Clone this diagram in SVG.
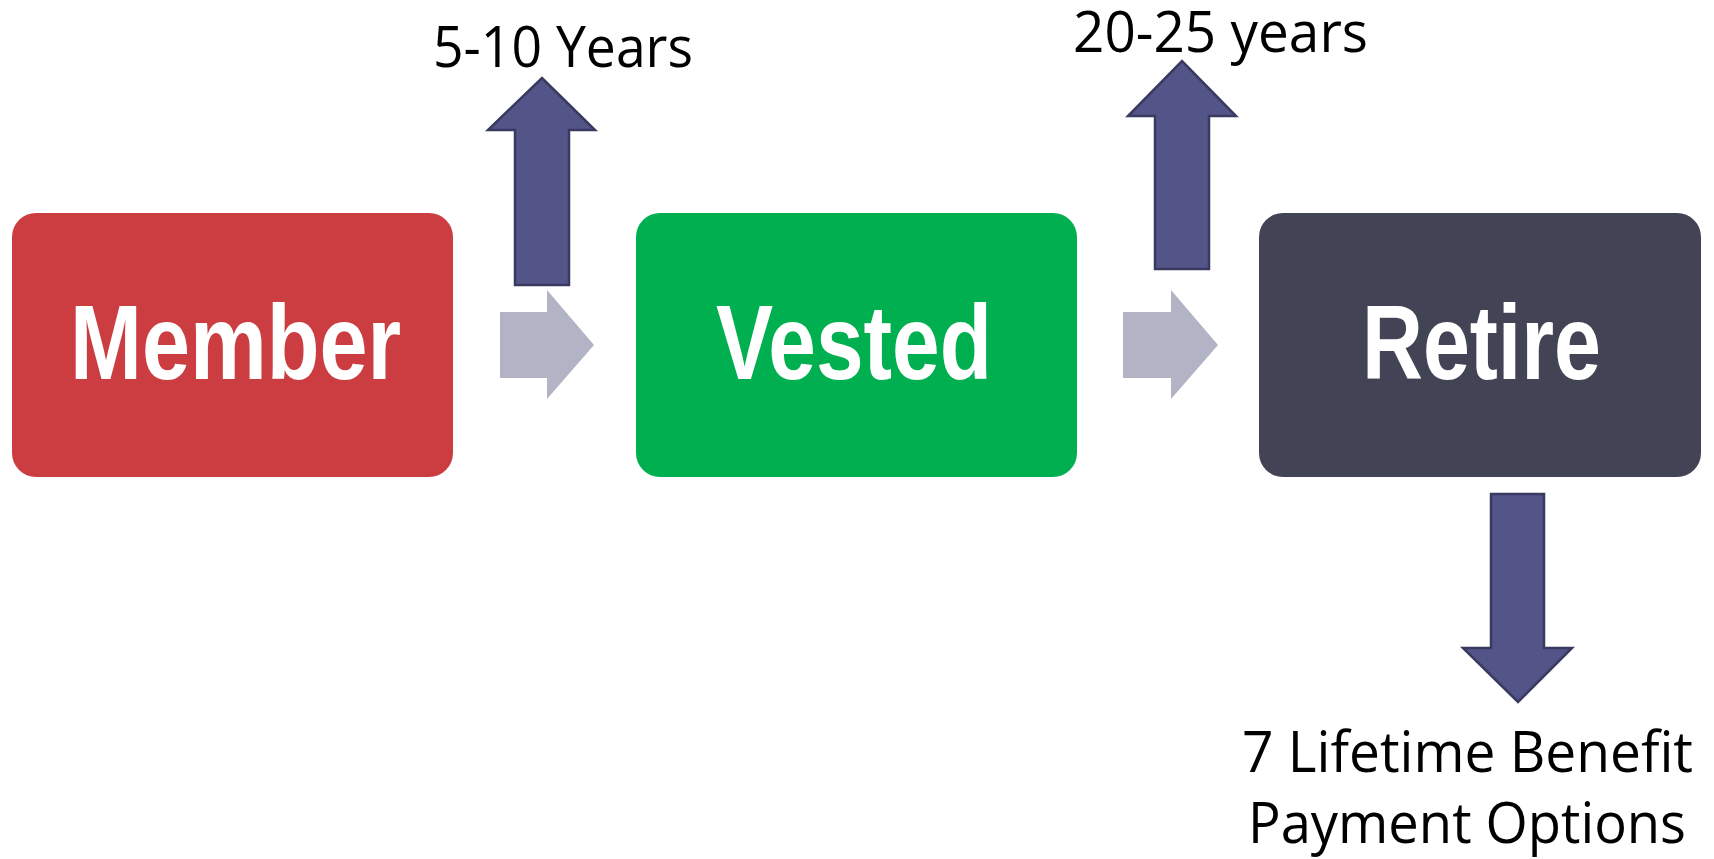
<svg xmlns="http://www.w3.org/2000/svg" width="1714" height="859" viewBox="0 0 1714 859">
<style>
.box-label{font-family:"Liberation Sans",Arial,sans-serif;font-weight:bold;font-size:106px;fill:#ffffff;}
.note{font-family:"Open Sans","Noto Sans",sans-serif;font-size:57px;fill:#000000;}
.big-arrow{fill:#535488;stroke:#383a60;stroke-width:2.5;stroke-linejoin:miter;}
.flow-arrow{fill:#b3b3c6;}
</style>
<rect width="1714" height="859" fill="#ffffff"/>
<g id="connectors">
<polygon class="flow-arrow" points="500,312 547,312 547,290 594,345 547,399 547,378 500,378"/>
<polygon class="flow-arrow" points="1123,312 1171,312 1171,290 1218,345 1171,399 1171,378 1123,378"/>
<polygon class="big-arrow" points="515,285 515,130 488,130 542,78 595,130 569,130 569,285"/>
<polygon class="big-arrow" points="1155,269 1155,116 1128,116 1182,61 1236,116 1209,116 1209,269"/>
<polygon class="big-arrow" points="1491,494 1544,494 1544,648 1572,648 1518,702 1463,648 1491,648"/>
</g>
<g id="node-member">
<rect x="12" y="213" width="441" height="264" rx="24" ry="24" fill="#cb3d41"/>
<text class="box-label" x="70" y="379" textLength="331" lengthAdjust="spacingAndGlyphs">Member</text>
</g>
<g id="node-vested">
<rect x="636" y="213" width="441" height="264" rx="24" ry="24" fill="#00b050"/>
<text class="box-label" x="716" y="379" textLength="276" lengthAdjust="spacingAndGlyphs">Vested</text>
</g>
<g id="node-retire">
<rect x="1259" y="213" width="442" height="264" rx="24" ry="24" fill="#424355"/>
<text class="box-label" x="1362" y="379" textLength="239" lengthAdjust="spacingAndGlyphs">Retire</text>
</g>
<g id="label-5-10">
<text class="note" x="433" y="67" textLength="260" lengthAdjust="spacingAndGlyphs">5-10 Years</text>
</g>
<g id="label-20-25">
<text class="note" x="1073" y="52" textLength="295" lengthAdjust="spacingAndGlyphs">20-25 years</text>
</g>
<g id="label-options">
<text class="note" x="1242" y="772" textLength="451" lengthAdjust="spacingAndGlyphs">7 Lifetime Benefit</text>
<text class="note" x="1248" y="843" textLength="438" lengthAdjust="spacingAndGlyphs">Payment Options</text>
</g>
</svg>
